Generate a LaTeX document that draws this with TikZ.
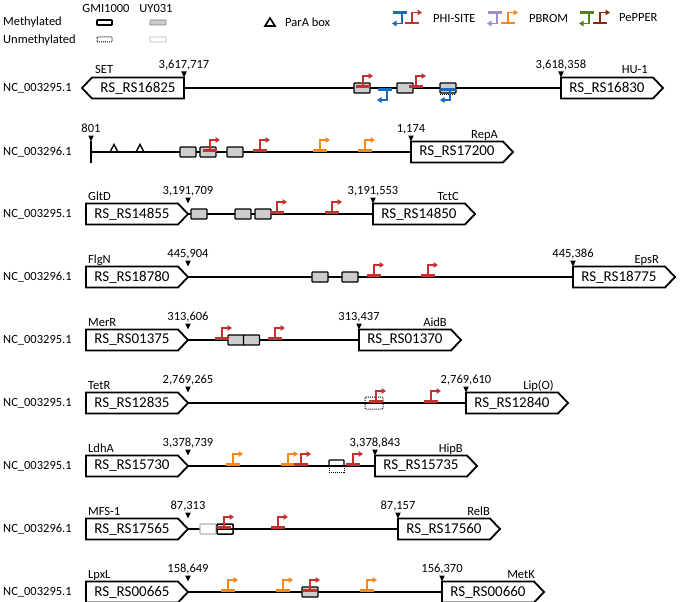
\documentclass[tikz,border=0pt]{standalone}
\usepackage{fontspec}
\setmainfont{Carlito}
\usetikzlibrary{arrows.meta}
\definecolor{phiblue}{RGB}{25,105,195}
\definecolor{phired}{RGB}{196,50,48}
\definecolor{bromorange}{RGB}{245,135,30}
\definecolor{brompurple}{RGB}{160,140,200}
\definecolor{peppergreen}{RGB}{85,130,25}
\definecolor{pepperbrown}{RGB}{140,40,10}
\definecolor{boxgray}{RGB}{205,205,205}
\newcounter{nid}
\tikzset{
  gene/.style={draw=black, line width=1.8pt, fill=white, line join=miter},
  genetext/.style={font=\fontsize{15}{15}\selectfont, inner sep=0pt},
  small/.style={font=\fontsize{12.5}{13}\selectfont, inner sep=0pt},
  backbone/.style={line width=1.8pt},
  methbox/.style={draw=black, line width=1.3pt, fill=boxgray, rounded corners=0.8pt},
  promline/.style={line width=1.7pt, -{Triangle[length=4.5pt,width=5.5pt]}},
  probar/.style={line width=2.6pt},
}
% text label with automatic name
\newcommand\lab[3]{\stepcounter{nid}\node[#1] (t\arabic{nid}) at (#2) {#3};}
% right-pointing gene: name, x0, line y, text
\newcommand\geneR[4]{%
  \draw[gene] (#2,#3-10.5) -- (#2+92,#3-10.5) -- (#2+102,#3) -- (#2+92,#3+10.5) -- (#2,#3+10.5) -- cycle;
  \node[genetext] (#1) at (#2+46,#3) {#4};}
% left-pointing gene: name, tip x, line y, text
\newcommand\geneL[4]{%
  \draw[gene] (#2,#3) -- (#2+10,#3-10.5) -- (#2+102,#3-10.5) -- (#2+102,#3+10.5) -- (#2+10,#3+10.5) -- cycle;
  \node[genetext] (#1) at (#2+56,#3) {#4};}
% position marker: x, line y, text
\newcommand\posmark[3]{%
  \fill (#1,#2-10.5) -- (#1-2.8,#2-16.5) -- (#1+2.8,#2-16.5) -- cycle;
  \lab{small, anchor=base}{#1,#2-20}{#3}}
% forward promoter: colour, stem x, line y
\newcommand\pf[3]{%
  \draw[#1, probar] (#2-7,#3-1.3) -- (#2+7,#3-1.3);
  \draw[#1, promline] (#2,#3-1.3) -- (#2,#3-12) -- (#2+10,#3-12);}
% reverse promoter: colour, stem x, line y
\newcommand\pr[3]{%
  \draw[#1, probar] (#2-9,#3+1.3) -- (#2+5,#3+1.3);
  \draw[#1, promline] (#2,#3+1.3) -- (#2,#3+12) -- (#2-10,#3+12);}
% methylated box (grey): centre x, line y
\newcommand\gbox[2]{\draw[methbox] (#1-8,#2-5) rectangle (#1+8,#2+5);}
\begin{document}
\begin{tikzpicture}[x=1pt,y=-1pt]
\useasboundingbox (0,0) rectangle (680,602);
% ---------------- legend ----------------
\lab{small}{106,8}{GMI1000}
\lab{small}{156,8}{UY031}
\lab{small, anchor=west}{3,22}{Methylated}
\lab{small, anchor=west}{3,40}{Unmethylated}
\draw[line width=1.8pt, rounded corners=0.6pt] (97,20) rectangle (112,25);
\draw[draw=gray, fill=boxgray, line width=0.8pt, rounded corners=0.6pt] (150,20) rectangle (166,25);
\draw[line width=1pt, densely dotted, rounded corners=0.6pt] (97,37) rectangle (112,42);
\draw[draw=gray!60, line width=0.9pt, rounded corners=0.6pt] (150,37) rectangle (166,42);
\draw[line width=1.6pt, line join=miter] (265,26) -- (270,18) -- (275,26) -- cycle;
\lab{small, anchor=west}{285,22}{ParA box}
\pr{phiblue}{402}{11.5}
\pf{phired}{412}{24.5}
\lab{small, anchor=west}{433,18}{PHI-SITE}
\pr{brompurple}{497}{11.5}
\pf{bromorange}{508}{24.5}
\lab{small, anchor=west}{529,18}{PBROM}
\pr{peppergreen}{589}{11.5}
\pf{pepperbrown}{600}{24.5}
\lab{small, anchor=west}{619,18}{PePPER}
% ---------------- row 1 ----------------
\lab{small, anchor=west}{3,88}{NC\_003295.1}
\coordinate (a1) at (184,88); \coordinate (b1) at (561,88);
\draw[backbone] (a1) -- (b1);
\gbox{362}{88} \gbox{405}{88} \gbox{448}{88}
\draw[line width=1pt, densely dotted] (440,94) -- (456,94);
\pf{phired}{363}{88} \pf{phired}{416}{88}
\pr{phiblue}{387}{88} \pr{phiblue}{450}{88}
\geneL{g1a}{82}{88}{RS\_RS16825}
\geneR{g1b}{561}{88}{RS\_RS16830}
\lab{small, anchor=base west}{95,74}{SET}
\lab{small, anchor=base east}{648,74}{HU-1}
\posmark{184}{88}{3,617,717}
\posmark{561}{88}{3,618,358}
% ---------------- row 2 ----------------
\lab{small, anchor=west}{3,152}{NC\_003296.1}
\coordinate (a2) at (91,152); \coordinate (b2) at (411,152);
\draw[backbone] (a2) -- (b2);
\draw[line width=1.8pt] (91,141) -- (91,163);
\draw[line width=1.4pt, line join=miter] (110,152) -- (114,144.5) -- (118,152);
\draw[line width=1.4pt, line join=miter] (136,152) -- (140,144.5) -- (144,152);
\gbox{188}{152} \gbox{208}{152} \gbox{235}{152}
\pf{phired}{210}{152} \pf{phired}{260}{152}
\pf{bromorange}{320}{152} \pf{bromorange}{365}{152}
\geneR{g2b}{411}{152}{RS\_RS17200}
\lab{small, anchor=base east}{498,138}{RepA}
\posmark{91}{152}{801}
\posmark{411}{152}{1,174}
% ---------------- row 3 ----------------
\lab{small, anchor=west}{3,214}{NC\_003295.1}
\coordinate (a3) at (188,214); \coordinate (b3) at (373,214);
\draw[backbone] (a3) -- (b3);
\gbox{199}{214} \gbox{243}{214} \gbox{263}{214}
\pf{phired}{277}{214} \pf{phired}{332}{214}
\geneR{g3a}{86}{214}{RS\_RS14855}
\geneR{g3b}{373}{214}{RS\_RS14850}
\lab{small, anchor=base west}{88,200}{GltD}
\lab{small, anchor=base east}{459,200}{TctC}
\posmark{188}{214}{3,191,709}
\posmark{373}{214}{3,191,553}
% ---------------- row 4 ----------------
\lab{small, anchor=west}{3,277}{NC\_003296.1}
\coordinate (a4) at (188,277); \coordinate (b4) at (573,277);
\draw[backbone] (a4) -- (b4);
\gbox{320}{277} \gbox{350}{277}
\pf{phired}{374}{277} \pf{phired}{428}{277}
\geneR{g4a}{86}{277}{RS\_RS18780}
\geneR{g4b}{573}{277}{RS\_RS18775}
\lab{small, anchor=base west}{88,263}{FlgN}
\lab{small, anchor=base east}{659,263}{EpsR}
\posmark{188}{277}{445,904}
\posmark{573}{277}{445,386}
% ---------------- row 5 ----------------
\lab{small, anchor=west}{3,340}{NC\_003295.1}
\coordinate (a5) at (188,340); \coordinate (b5) at (359,340);
\draw[backbone] (a5) -- (b5);
\gbox{236}{340} \gbox{251.5}{340}
\pf{phired}{222}{340} \pf{phired}{275}{340}
\geneR{g5a}{86}{340}{RS\_RS01375}
\geneR{g5b}{359}{340}{RS\_RS01370}
\lab{small, anchor=base west}{88,326}{MerR}
\lab{small, anchor=base east}{447,326}{AidB}
\posmark{188}{340}{313,606}
\posmark{359}{340}{313,437}
% ---------------- row 6 ----------------
\lab{small, anchor=west}{3,403}{NC\_003295.1}
\coordinate (a6) at (188,403); \coordinate (b6) at (466,403);
\draw[backbone] (a6) -- (b6);
\draw[line width=1pt, densely dotted, rounded corners=0.8pt] (365,397) rectangle (383,409);
\pf{phired}{376}{403} \pf{phired}{431}{403}
\geneR{g6a}{86}{403}{RS\_RS12835}
\geneR{g6b}{466}{403}{RS\_RS12840}
\lab{small, anchor=base west}{88,389}{TetR}
\lab{small, anchor=base east}{554,389}{Lip(O)}
\posmark{188}{403}{2,769,265}
\posmark{466}{403}{2,769,610}
% ---------------- row 7 ----------------
\lab{small, anchor=west}{3,466}{NC\_003295.1}
\coordinate (a7) at (188,466); \coordinate (b7) at (375,466);
\draw[backbone] (a7) -- (b7);
\draw[line width=1.3pt, rounded corners=0.8pt] (329,466) -- (329,460) -- (344,460) -- (344,466);
\draw[line width=1pt, densely dotted] (329,466) -- (329,472) -- (344,472) -- (344,466);
\pf{bromorange}{233}{466} \pf{bromorange}{288}{466}
\pf{phired}{301}{466} \pf{phired}{353}{466}
\geneR{g7a}{86}{466}{RS\_RS15730}
\geneR{g7b}{375}{466}{RS\_RS15735}
\lab{small, anchor=base west}{88,452}{LdhA}
\lab{small, anchor=base east}{463,452}{HipB}
\posmark{188}{466}{3,378,739}
\posmark{375}{466}{3,378,843}
% ---------------- row 8 ----------------
\lab{small, anchor=west}{3,529}{NC\_003296.1}
\coordinate (a8) at (188,529); \coordinate (b8) at (398,529);
\draw[backbone] (a8) -- (b8);
\draw[draw=gray!60, line width=1.1pt, fill=white, rounded corners=0.8pt] (200,524) rectangle (216,534);
\draw[line width=1.5pt, rounded corners=0.8pt] (217,524) rectangle (233,534);
\pf{phired}{224}{529} \pf{phired}{278}{529}
\geneR{g8a}{86}{529}{RS\_RS17565}
\geneR{g8b}{398}{529}{RS\_RS17560}
\lab{small, anchor=base west}{88,515}{MFS-1}
\lab{small, anchor=base east}{490,515}{RelB}
\posmark{188}{529}{87,313}
\posmark{398}{529}{87,157}
% ---------------- row 9 ----------------
\lab{small, anchor=west}{3,592}{NC\_003295.1}
\coordinate (a9) at (188,592); \coordinate (b9) at (442,592);
\draw[backbone] (a9) -- (b9);
\gbox{310}{592}
\pf{bromorange}{228}{592} \pf{bromorange}{283}{592}
\pf{phired}{310}{592} \pf{bromorange}{367}{592}
\geneR{g9a}{86}{592}{RS\_RS00665}
\geneR{g9b}{442}{592}{RS\_RS00660}
\lab{small, anchor=base west}{88,578}{LpxL}
\lab{small, anchor=base east}{535,578}{MetK}
\posmark{188}{592}{158,649}
\posmark{442}{592}{156,370}
\end{tikzpicture}
\end{document}
